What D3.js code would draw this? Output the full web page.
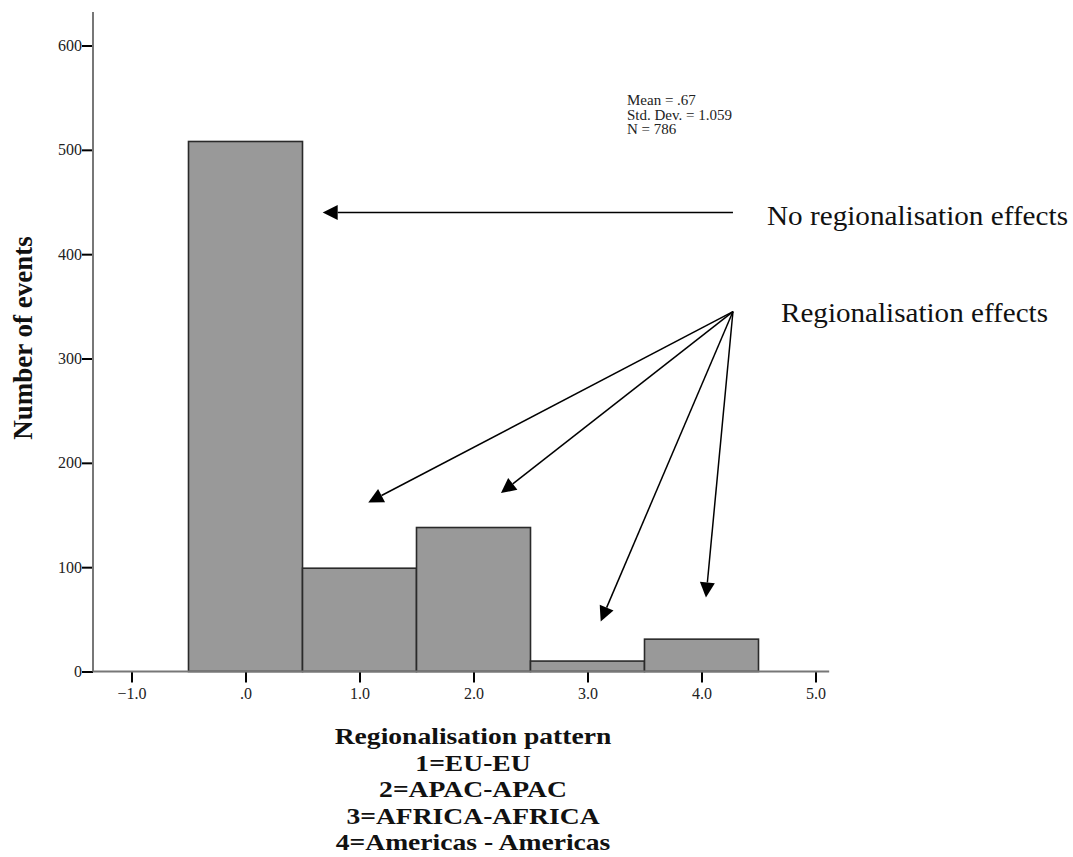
<!DOCTYPE html>
<html>
<head>
<meta charset="utf-8">
<script src="https://cdn.jsdelivr.net/npm/d3@7"></script>
<style>
  html, body { margin: 0; padding: 0; background: #fff; }
  svg { display: block; font-family: "Liberation Serif", "Times New Roman", serif; }
</style>
</head>
<body>
<svg id="chart" width="1073" height="857"></svg>
<script>
// ---- data ----
const binCenters = [0, 1, 2, 3, 4];
const binCounts = [508, 99, 138, 10, 31];
const binWidth = 1;
const xTickValues = [-1, 0, 1, 2, 3, 4, 5];
const yTickValues = [0, 100, 200, 300, 400, 500, 600];
const statsLines = ["Mean = .67", "Std. Dev. = 1.059", "N = 786"];
const xTitleLines = ["Regionalisation pattern", "1=EU-EU", "2=APAC-APAC", "3=AFRICA-AFRICA", "4=Americas - Americas"];
const yTitle = "Number of events";
// annotation arrows in data units: [fromX, fromY, toX, toY]
const noEffectArrow = [4.276, 440, 0.677, 440];
const effectArrows = [
  [4.276, 345, 1.077, 162],
  [4.276, 345, 2.241, 171],
  [4.276, 345, 3.116, 48],
  [4.276, 345, 4.039, 71]
];
const noEffectLabel = "No regionalisation effects";
const effectLabel = "Regionalisation effects";

// ---- scales ----
const svg = d3.select("#chart");
const x = d3.scaleLinear().domain([-1, 5]).range([131.5, 815.5]);
const y = d3.scaleLinear().domain([0, 600]).range([671.5, 45.5]);
const axisX0 = 93;

// ---- bars ----
svg.append("g").selectAll("rect").data(binCenters).join("rect")
  .attr("x", d => x(d - binWidth / 2))
  .attr("width", d => x(d + binWidth / 2) - x(d - binWidth / 2))
  .attr("y", (d, i) => y(binCounts[i]))
  .attr("height", (d, i) => y(0) - y(binCounts[i]))
  .attr("fill", "#999999")
  .attr("stroke", "#2a2a2a")
  .attr("stroke-width", 1.6);

// ---- axes ----
const yAxis = d3.axisLeft(y).tickValues(yTickValues).tickSize(11).tickPadding(0).tickFormat(d3.format("d"));
const gy = svg.append("g").attr("transform", `translate(${axisX0},0)`).call(yAxis);
gy.select(".domain").remove();
gy.selectAll(".tick line").attr("stroke", "#000").attr("stroke-width", 2);
gy.selectAll(".tick text").attr("font-family", "Liberation Serif, serif").attr("font-size", 16).attr("fill", "#222");

const xAxis = d3.axisBottom(x).tickValues(xTickValues).tickSize(11).tickPadding(5)
  .tickFormat(d => d === 0 ? ".0" : d3.format(".1f")(d));
const gx = svg.append("g").attr("transform", `translate(0,${y(0)})`).call(xAxis);
gx.select(".domain").remove();
gx.selectAll(".tick line").attr("stroke", "#000").attr("stroke-width", 2);
gx.selectAll(".tick text").attr("font-family", "Liberation Serif, serif").attr("font-size", 16).attr("fill", "#222");

// axis lines
svg.append("line").attr("x1", axisX0).attr("x2", axisX0).attr("y1", y(0)).attr("y2", y(632))
  .attr("stroke", "#777").attr("stroke-width", 2);
svg.append("line").attr("x1", axisX0).attr("x2", x(5.12)).attr("y1", y(0)).attr("y2", y(0))
  .attr("stroke", "#777").attr("stroke-width", 2);

// ---- stats text ----
svg.append("g").selectAll("text").data(statsLines).join("text")
  .attr("x", 627).attr("y", (d, i) => 105 + i * 14.5)
  .attr("font-size", 15).attr("fill", "#222").text(d => d);

// ---- axis titles ----
svg.append("text").attr("transform", "translate(32,338) rotate(-90)")
  .attr("text-anchor", "middle").attr("font-weight", "bold").attr("font-size", 27)
  .attr("fill", "#111").text(yTitle);

svg.append("g").selectAll("text").data(xTitleLines).join("text")
  .attr("transform", (d, i) => `translate(473,${744 + i * 26.5}) scale(1.2,1)`)
  .attr("text-anchor", "middle").attr("font-weight", "bold").attr("font-size", 23)
  .attr("fill", "#111").text(d => d);

// ---- arrows ----
function arrow(g, a) {
  const x1 = x(a[0]), y1 = y(a[1]), x2 = x(a[2]), y2 = y(a[3]);
  const dx = x2 - x1, dy = y2 - y1, len = Math.hypot(dx, dy);
  const ux = dx / len, uy = dy / len;
  const hl = 15, hw = 7.5;
  const bx = x2 - ux * hl, by = y2 - uy * hl;
  g.append("line").attr("x1", x1).attr("y1", y1).attr("x2", bx).attr("y2", by)
    .attr("stroke", "#000").attr("stroke-width", 1.5);
  g.append("path").attr("d", `M${x2},${y2}L${bx - uy * hw},${by + ux * hw}L${bx + uy * hw},${by - ux * hw}Z`)
    .attr("fill", "#000");
}
const ga = svg.append("g");
arrow(ga, noEffectArrow);
effectArrows.forEach(a => arrow(ga, a));

svg.append("text").attr("x", 767).attr("y", 225).attr("font-size", 27)
  .attr("textLength", 301).attr("lengthAdjust", "spacingAndGlyphs").attr("fill", "#111").text(noEffectLabel);
svg.append("text").attr("x", 781).attr("y", 322).attr("font-size", 27)
  .attr("textLength", 267).attr("lengthAdjust", "spacingAndGlyphs").attr("fill", "#111").text(effectLabel);
</script>
</body>
</html>
